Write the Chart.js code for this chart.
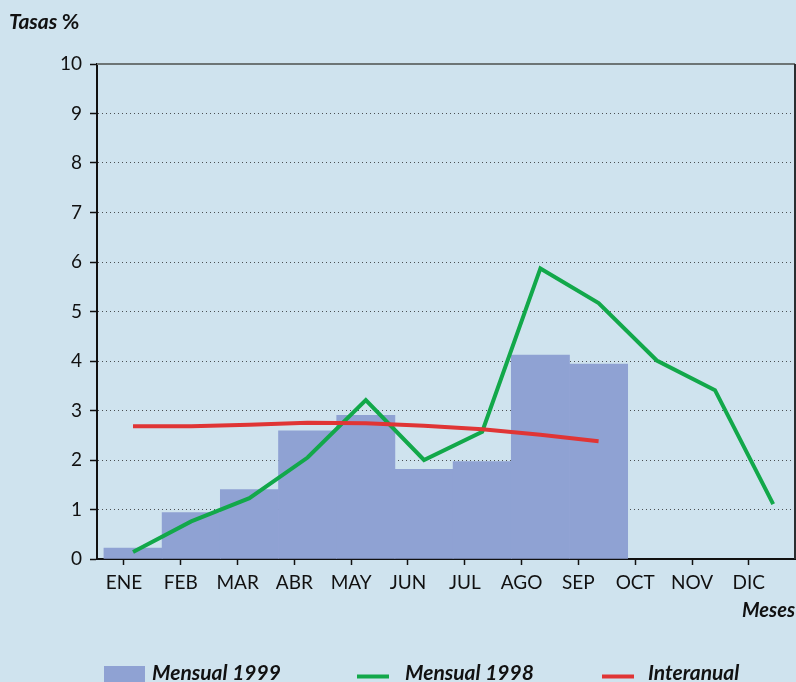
<!DOCTYPE html>
<html>
<head>
<meta charset="utf-8">
<script src="https://cdn.jsdelivr.net/npm/chart.js@4"></script>
<style>
  html, body { margin: 0; padding: 0; background: #cfe3ee; }
  canvas { display: block; background: #cfe3ee; }
</style>
</head>
<body>
<canvas id="c" width="796" height="682"></canvas>
<script>
const categories = ['ENE','FEB','MAR','ABR','MAY','JUN','JUL','AGO','SEP','OCT','NOV','DIC'];
const mensual1999 = [0.22, 0.94, 1.40, 2.59, 2.90, 1.81, 1.97, 4.12, 3.94];
const mensual1998 = [0.14, 0.76, 1.23, 2.05, 3.21, 2.00, 2.57, 5.87, 5.17, 4.01, 3.41, 1.11];
const interanual  = [2.68, 2.68, 2.71, 2.75, 2.74, 2.69, 2.62, 2.51, 2.38];
const yMin = 0, yMax = 10;

const FONT = 'Lato, "Open Sans", sans-serif';
const toXY = arr => arr.map((v, i) => ({ x: i, y: v }));

const framePlugin = {
  id: 'frame',
  beforeDatasetsDraw(chart) {
    const { ctx, chartArea: a } = chart;
    ctx.save();
    ctx.strokeStyle = '#6d7575';
    ctx.lineWidth = 2;
    ctx.beginPath();
    ctx.moveTo(a.left, a.top);
    ctx.lineTo(a.right, a.top);
    ctx.stroke();
    ctx.strokeStyle = '#2a2e30';
    ctx.beginPath();
    ctx.moveTo(a.right, a.top);
    ctx.lineTo(a.right, a.bottom);
    ctx.stroke();
    ctx.restore();
  },
  afterDraw(chart) {
    const { ctx } = chart;
    const ds = chart.data.datasets;
    ctx.save();
    ctx.fillStyle = '#111';
    ctx.textBaseline = 'alphabetic';
    // axis titles
    ctx.font = 'italic bold 21px ' + FONT;
    ctx.textAlign = 'left';
    ctx.fillText('Tasas', 9, 29);
    const w = ctx.measureText('Tasas ').width;
    ctx.font = 'bold 21px ' + FONT;
    ctx.fillText('%', 9 + w, 29);
    ctx.font = 'italic bold 20px ' + FONT;
    ctx.textAlign = 'right';
    ctx.fillText('Meses', 795, 617);
    // legend
    ctx.font = 'italic bold 21px ' + FONT;
    ctx.textAlign = 'left';
    const items = [
      { ds: ds[0], x: 104, tx: 152, kind: 'box' },
      { ds: ds[1], x: 357, tx: 405, kind: 'line' },
      { ds: ds[2], x: 602, tx: 648, kind: 'line' }
    ];
    items.forEach(it => {
      if (it.kind === 'box') {
        ctx.fillStyle = it.ds.backgroundColor;
        ctx.fillRect(it.x, 666, 41, 18);
      } else {
        ctx.strokeStyle = it.ds.borderColor;
        ctx.lineWidth = 4;
        ctx.beginPath();
        ctx.moveTo(it.x, 676.5);
        ctx.lineTo(it.x + 32, 676.5);
        ctx.stroke();
      }
      ctx.fillStyle = '#111';
      ctx.fillText(it.ds.label, it.tx, 680);
    });
    ctx.restore();
  }
};

new Chart(document.getElementById('c'), {
  type: 'bar',
  data: {
    datasets: [
      {
        type: 'bar',
        label: 'Mensual 1999',
        data: toXY(mensual1999),
        xAxisID: 'xd',
        backgroundColor: '#8fa2d3',
        borderWidth: 0,
        barPercentage: 1,
        categoryPercentage: 1,
        order: 3
      },
      {
        type: 'line',
        label: 'Mensual 1998',
        data: toXY(mensual1998),
        xAxisID: 'xd',
        borderColor: '#12a84a',
        backgroundColor: '#12a84a',
        borderWidth: 4,
        pointRadius: 0,
        tension: 0,
        fill: false,
        order: 2
      },
      {
        type: 'line',
        label: 'Interanual',
        data: toXY(interanual),
        xAxisID: 'xd',
        borderColor: '#e03535',
        backgroundColor: '#e03535',
        borderWidth: 4,
        pointRadius: 0,
        tension: 0,
        fill: false,
        order: 1
      }
    ]
  },
  options: {
    responsive: false,
    animation: false,
    devicePixelRatio: 1,
    layout: { padding: { top: 64, right: 1, bottom: 0, left: 0 } },
    plugins: {
      legend: { display: false },
      tooltip: { enabled: false },
      title: { display: false }
    },
    scales: {
      xd: {
        type: 'linear',
        display: false,
        min: -0.619,
        max: 11.375,
        bounds: 'data',
        offset: false,
        grid: { offset: false }
      },
      x: {
        type: 'linear',
        position: 'bottom',
        min: -0.475,
        max: 11.813,
        bounds: 'data',
        offset: false,
        afterBuildTicks: axis => { axis.ticks = categories.map((c, i) => ({ value: i })); },
        afterFit: s => { s.height = 123; },
        ticks: {
          autoSkip: false,
          maxRotation: 0,
          padding: 6,
          color: '#111',
          font: { family: FONT, size: 19 },
          callback: v => categories[v]
        },
        grid: {
          offset: false,
          drawOnChartArea: false,
          drawTicks: true,
          tickLength: 6,
          tickColor: '#111',
          tickWidth: 1.5
        },
        border: { display: true, color: '#111', width: 2 }
      },
      y: {
        type: 'linear',
        min: yMin,
        max: yMax,
        afterFit: s => { s.width = 97; },
        ticks: {
          stepSize: 1,
          padding: 8,
          color: '#111',
          font: { family: FONT, size: 19 }
        },
        grid: {
          color: ctx => (ctx.tick && ctx.tick.value > yMin && ctx.tick.value < yMax) ? '#4a4f52' : 'rgba(0,0,0,0)',
          lineWidth: 1,
          drawTicks: true,
          tickLength: 7,
          tickColor: '#111',
          tickWidth: 1.5,
          tickBorderDash: []
        },
        border: { display: true, color: '#111', width: 2, dash: [1, 3] }
      }
    }
  },
  plugins: [framePlugin]
});
</script>
</body>
</html>
